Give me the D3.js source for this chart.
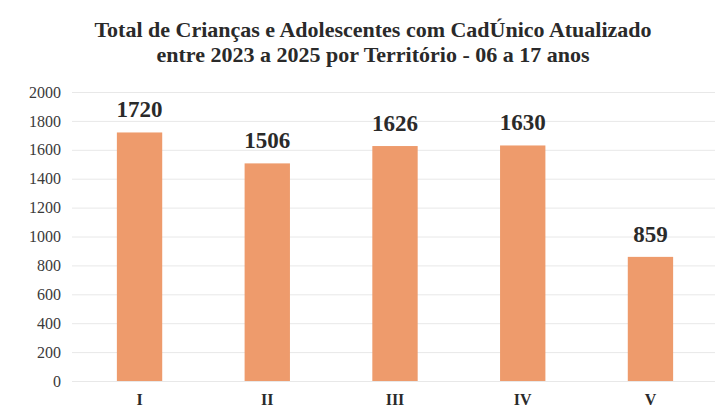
<!DOCTYPE html>
<html>
<head>
<meta charset="utf-8">
<script src="https://cdn.jsdelivr.net/npm/d3@7"></script>
<style>
  body { margin: 0; background: #fff; }
</style>
</head>
<body>
<svg></svg>
<script>
const territories = ['I', 'II', 'III', 'IV', 'V'];
const totals = [1720, 1506, 1626, 1630, 859];
const yTicks = [0, 200, 400, 600, 800, 1000, 1200, 1400, 1600, 1800, 2000];
const titleLines = ['Total de Crianças e Adolescentes com CadÚnico Atualizado',
                    'entre 2023 a 2025 por Território - 06 a 17 anos'];

const WIDTH = 723;
const HEIGHT = 411;
const PADDING_TOP = 92;
const PADDING_BOTTOM = 30;
const PADDING_LEFT = 76;
const PADDING_RIGHT = 9;

const FONT = "'Liberation Serif', 'Times New Roman', serif";

const svg = d3.select('svg')
  .attr('width', WIDTH)
  .attr('height', HEIGHT);

svg.append('text')
  .attr('x', 373)
  .attr('y', 37)
  .attr('text-anchor', 'middle')
  .style('font-family', FONT)
  .attr('font-size', '22px')
  .attr('font-weight', 'bold')
  .attr('fill', '#2a2a2a')
  .selectAll('tspan')
  .data(titleLines)
  .enter()
  .append('tspan')
  .attr('x', 373)
  .attr('dy', (d, i) => i === 0 ? 0 : 25)
  .text(d => d);

const yScale = d3.scaleLinear()
  .domain([0, 2000])
  .range([HEIGHT - PADDING_BOTTOM, PADDING_TOP]);

const xScale = d3.scaleBand()
  .domain(territories)
  .range([PADDING_LEFT, WIDTH - PADDING_RIGHT])
  .paddingInner(0.645)
  .paddingOuter(0.32);

// gridlines
svg.append('g')
  .selectAll('line')
  .data(yTicks)
  .enter()
  .append('line')
  .attr('x1', 72)
  .attr('x2', WIDTH - 8)
  .attr('y1', d => yScale(d) + 0.5)
  .attr('y2', d => yScale(d) + 0.5)
  .attr('stroke', '#e8e8e8')
  .attr('stroke-width', 1);

const yAxis = d3.axisLeft(yScale)
  .tickValues(yTicks)
  .tickFormat(d3.format('d'))
  .tickSize(0)
  .tickPadding(0);

svg.append('g')
  .attr('id', 'y-axis')
  .attr('transform', `translate(61, 0)`)
  .call(yAxis)
  .call(g => g.select('.domain').remove())
  .selectAll('text')
  .style('font-family', FONT)
  .attr('font-size', '16px')
  .attr('fill', '#3a3a3a');

const xAxis = d3.axisBottom(xScale)
  .tickSize(0)
  .tickPadding(0);

svg.append('g')
  .attr('id', 'x-axis')
  .attr('transform', `translate(0, ${HEIGHT - PADDING_BOTTOM + 13})`)
  .call(xAxis)
  .call(g => g.select('.domain').remove())
  .selectAll('text')
  .style('font-family', FONT)
  .attr('font-size', '16px')
  .attr('font-weight', 'bold')
  .attr('fill', '#2a2a2a');

svg.selectAll('rect.bar')
  .data(totals)
  .enter()
  .append('rect')
  .attr('class', 'bar')
  .attr('x', (d, i) => xScale(territories[i]))
  .attr('y', d => yScale(d))
  .attr('width', xScale.bandwidth())
  .attr('height', d => yScale(0) - yScale(d))
  .attr('fill', '#EE9B6C');

svg.selectAll('text.value')
  .data(totals)
  .enter()
  .append('text')
  .attr('class', 'value')
  .attr('x', (d, i) => xScale(territories[i]) + xScale.bandwidth() / 2)
  .attr('y', d => yScale(d) - 15)
  .attr('text-anchor', 'middle')
  .style('font-family', FONT)
  .attr('font-size', '23px')
  .attr('font-weight', 'bold')
  .attr('fill', '#2a2a2a')
  .text(d => d);
</script>
</body>
</html>
